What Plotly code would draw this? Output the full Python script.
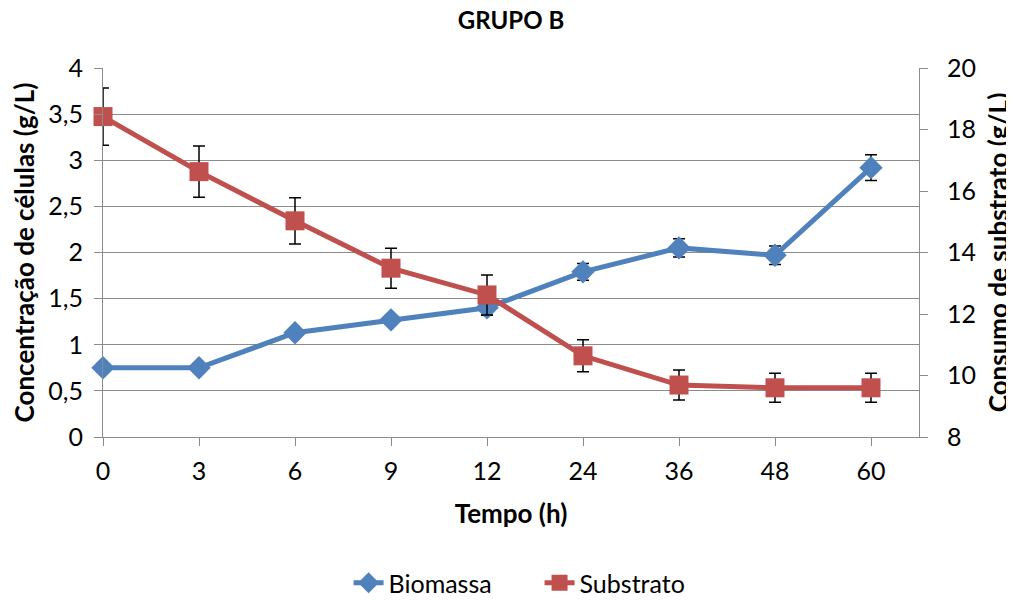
import plotly.graph_objects as go

categorias = ["0", "3", "6", "9", "12", "24", "36", "48", "60"]
biomassa = [0.75, 0.75, 1.13, 1.27, 1.40, 1.79, 2.05, 1.97, 2.92]
biomassa_err = [0.02, 0.02, 0.03, 0.03, 0.08, 0.09, 0.10, 0.10, 0.14]
substrato = [18.42, 16.63, 15.03, 13.49, 12.62, 10.64, 9.69, 9.60, 9.60]
substrato_err = [0.93, 0.83, 0.75, 0.65, 0.65, 0.52, 0.49, 0.47, 0.47]

xpos = list(range(len(categorias)))

FONT = "Lato"
BLUE = "#4F81BD"
RED = "#C0504D"
GRID = "#8C8C8C"
FS = 25

W, H = 1006, 593  # page body adds an 8px offset

fig = go.Figure()
fig.add_trace(go.Scatter(
    x=xpos, y=biomassa, name="Biomassa", mode="lines+markers",
    line=dict(color=BLUE, width=5),
    marker=dict(symbol="diamond", size=18, color=BLUE),
    error_y=dict(type="data", array=biomassa_err, visible=True, color="black", thickness=1.5, width=6),
    cliponaxis=False, yaxis="y",
))
fig.add_trace(go.Scatter(
    x=xpos, y=substrato, name="Substrato", mode="lines+markers",
    line=dict(color=RED, width=5),
    marker=dict(symbol="square", size=19, color=RED),
    error_y=dict(type="data", array=substrato_err, visible=True, color="black", thickness=1.5, width=6),
    cliponaxis=False, yaxis="y2",
))

fig.update_layout(
    width=W, height=H,
    paper_bgcolor="white", plot_bgcolor="white",
    separators=",.",
    font=dict(family=FONT, size=FS, color="black"),
    margin=dict(l=95, r=95, t=60, b=164, autoexpand=False),
    title=dict(text="<b>GRUPO B</b>", x=0.5, xref="container", xanchor="center",
               y=1 - 4 / H, yref="container", yanchor="top", pad=dict(t=0),
               font=dict(family=FONT, size=FS - 1, color="black")),
    xaxis=dict(
        range=[0, 8.5], tickmode="array", tickvals=xpos, ticktext=categorias,
        showgrid=False, zeroline=False, showline=True, linecolor=GRID, linewidth=1,
        ticks="outside", ticklen=8, tickcolor=GRID, ticklabelstandoff=4,
        automargin=False,
        title=dict(text="<b>Tempo (h)</b>", font=dict(size=FS + 1), standoff=20),
    ),
    yaxis=dict(
        range=[0, 4], dtick=0.5, tickformat=".1~f",
        showgrid=True, gridcolor=GRID, gridwidth=1, zeroline=False,
        showline=True, linecolor=GRID, linewidth=1,
        ticks="outside", ticklen=8, tickcolor=GRID, ticklabelstandoff=6,
        automargin=False,
        title=dict(text="<b>Concentração de células (g/L)</b>", font=dict(size=FS + 1), standoff=6),
    ),
    yaxis2=dict(
        range=[8, 20], dtick=2, overlaying="y", side="right",
        showgrid=False, zeroline=False, showline=True, linecolor=GRID, linewidth=1,
        ticks="outside", ticklen=8, tickcolor=GRID, ticklabelstandoff=14,
        automargin=False,
        title=dict(text="<b>Consumo de substrato (g/L)</b>", font=dict(size=FS + 1), standoff=16),
    ),
    legend=dict(orientation="h", x=0.535, xanchor="center", y=-146 / 369, yanchor="middle",
                font=dict(size=FS), entrywidth=146, entrywidthmode="pixels"),
    showlegend=True,
)

fig.write_html("out.html")
